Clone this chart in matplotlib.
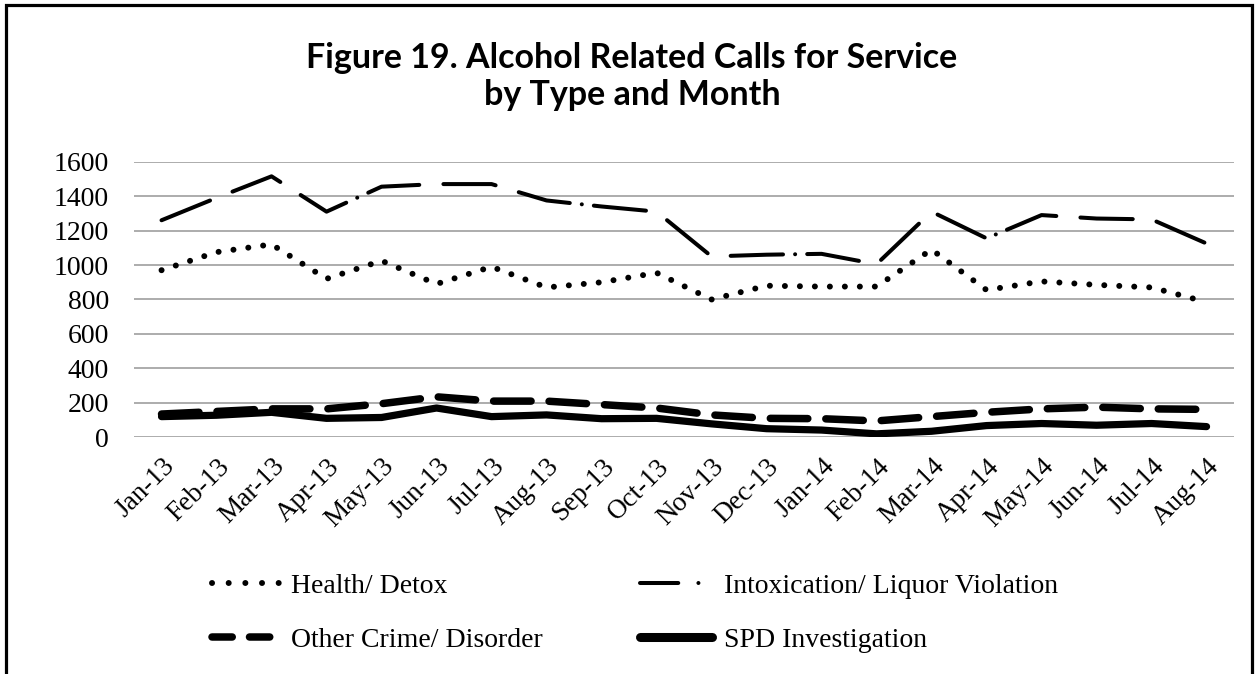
import matplotlib.pyplot as plt
from matplotlib.lines import Line2D
from matplotlib.patches import Rectangle

# ── Data ─────────────────────────────────────────────────────────────────
months = ["Jan-13", "Feb-13", "Mar-13", "Apr-13", "May-13", "Jun-13", "Jul-13",
          "Aug-13", "Sep-13", "Oct-13", "Nov-13", "Dec-13", "Jan-14", "Feb-14",
          "Mar-14", "Apr-14", "May-14", "Jun-14", "Jul-14", "Aug-14"]
health = [970, 1075, 1120, 920, 1025, 890, 990, 870, 900, 955,
          800, 880, 875, 875, 1090, 855, 905, 885, 870, 785]
intox = [1260, 1390, 1515, 1310, 1455, 1470, 1470, 1375, 1340, 1310,
         1050, 1060, 1065, 1005, 1310, 1155, 1290, 1270, 1265, 1125]
other = [135, 150, 165, 165, 195, 235, 210, 210, 190, 170,
         130, 110, 108, 95, 120, 145, 165, 175, 165, 162]
spd = [120, 128, 145, 110, 115, 170, 120, 130, 108, 110,
       78, 50, 42, 20, 35, 68, 80, 70, 80, 62]
labels = ["Health/ Detox", "Intoxication/ Liquor Violation",
          "Other Crime/ Disorder", "SPD Investigation"]

serif = "Liberation Serif"

fig = plt.figure(figsize=(12.55, 6.74), dpi=100)
ax = fig.add_axes([0.1068, 0.3512, 0.8765, 0.4089])

x = list(range(len(months)))

# ── Series ───────────────────────────────────────────────────────────────
ax.plot(x, health, color="black", lw=4.3, linestyle=(0, (0.01, 2.5)),
        dash_capstyle="round", zorder=3)
ax.plot(x, intox, color="black", lw=2.9,
        linestyle=(0, (13, 6, 13, 6, 13, 3, 0.01, 3)),
        dash_capstyle="round", zorder=3)
ax.plot(x, other, color="black", lw=5.4, linestyle=(0, (5, 2.4)),
        dash_capstyle="round", zorder=4)
ax.plot(x, spd, color="black", lw=5.2, solid_capstyle="round", zorder=5)

# ── Axes styling ─────────────────────────────────────────────────────────
ax.set_xlim(-0.5, len(months) - 0.5)
ax.set_ylim(0, 1600)
ax.set_yticks(range(0, 1601, 200))
ax.set_xticks(x)
ax.set_xticklabels(months, rotation=45, ha="right", va="top",
                   rotation_mode="anchor", fontsize=19.5, family=serif)
for lab in ax.get_yticklabels():
    lab.set_fontsize(20)
    lab.set_family(serif)
ax.tick_params(axis="y", length=0, pad=18)
ax.tick_params(axis="x", length=0, pad=12)
for s in ax.spines.values():
    s.set_visible(False)
ax.grid(axis="y", color="#a6a6a6", lw=1.3, zorder=1)
ax.set_axisbelow(True)

# ── Title ────────────────────────────────────────────────────────────────
fig.text(0.5036, 0.887, "Figure 19. Alcohol Related Calls for Service\nby Type and Month",
         ha="center", va="center", fontsize=24.5, fontweight="bold",
         family="Lato", linespacing=1.2)

# ── Legend: two columns, each its own legend so the columns sit where they should
left_handles = [
    Line2D([], [], color="black", lw=4.3, linestyle=(0, (0.01, 2.78)),
           dash_capstyle="round"),
    Line2D([], [], color="black", lw=5.4, linestyle=(0, (2.7, 2.3)),
           dash_capstyle="round"),
]
right_handles = [
    Line2D([], [], color="black", lw=2.9, linestyle=(0, (9.5, 5, 0.01, 5)),
           dash_capstyle="round"),
    Line2D([], [], color="black", lw=6.5, solid_capstyle="round"),
]
leg_kw = dict(loc="center left", frameon=False, borderpad=0, borderaxespad=0,
              prop={"family": serif, "size": 20}, handletextpad=0.43,
              labelspacing=1.03)
leg1 = fig.legend(left_handles, [labels[0], labels[2]],
                  bbox_to_anchor=(0.1689, 0.0905), handlelength=2.4, **leg_kw)
leg2 = fig.legend(right_handles, [labels[1], labels[3]],
                  bbox_to_anchor=(0.510, 0.0905), handlelength=2.6, **leg_kw)

# ── Frame around the figure (open at the bottom, as in the source) ──────
fig.patches.append(Rectangle((0.0045, -0.1), 0.9928, 1.0925,
                             transform=fig.transFigure, fill=False,
                             ec="black", lw=2.3))

fig.savefig("out.png", dpi=100)
